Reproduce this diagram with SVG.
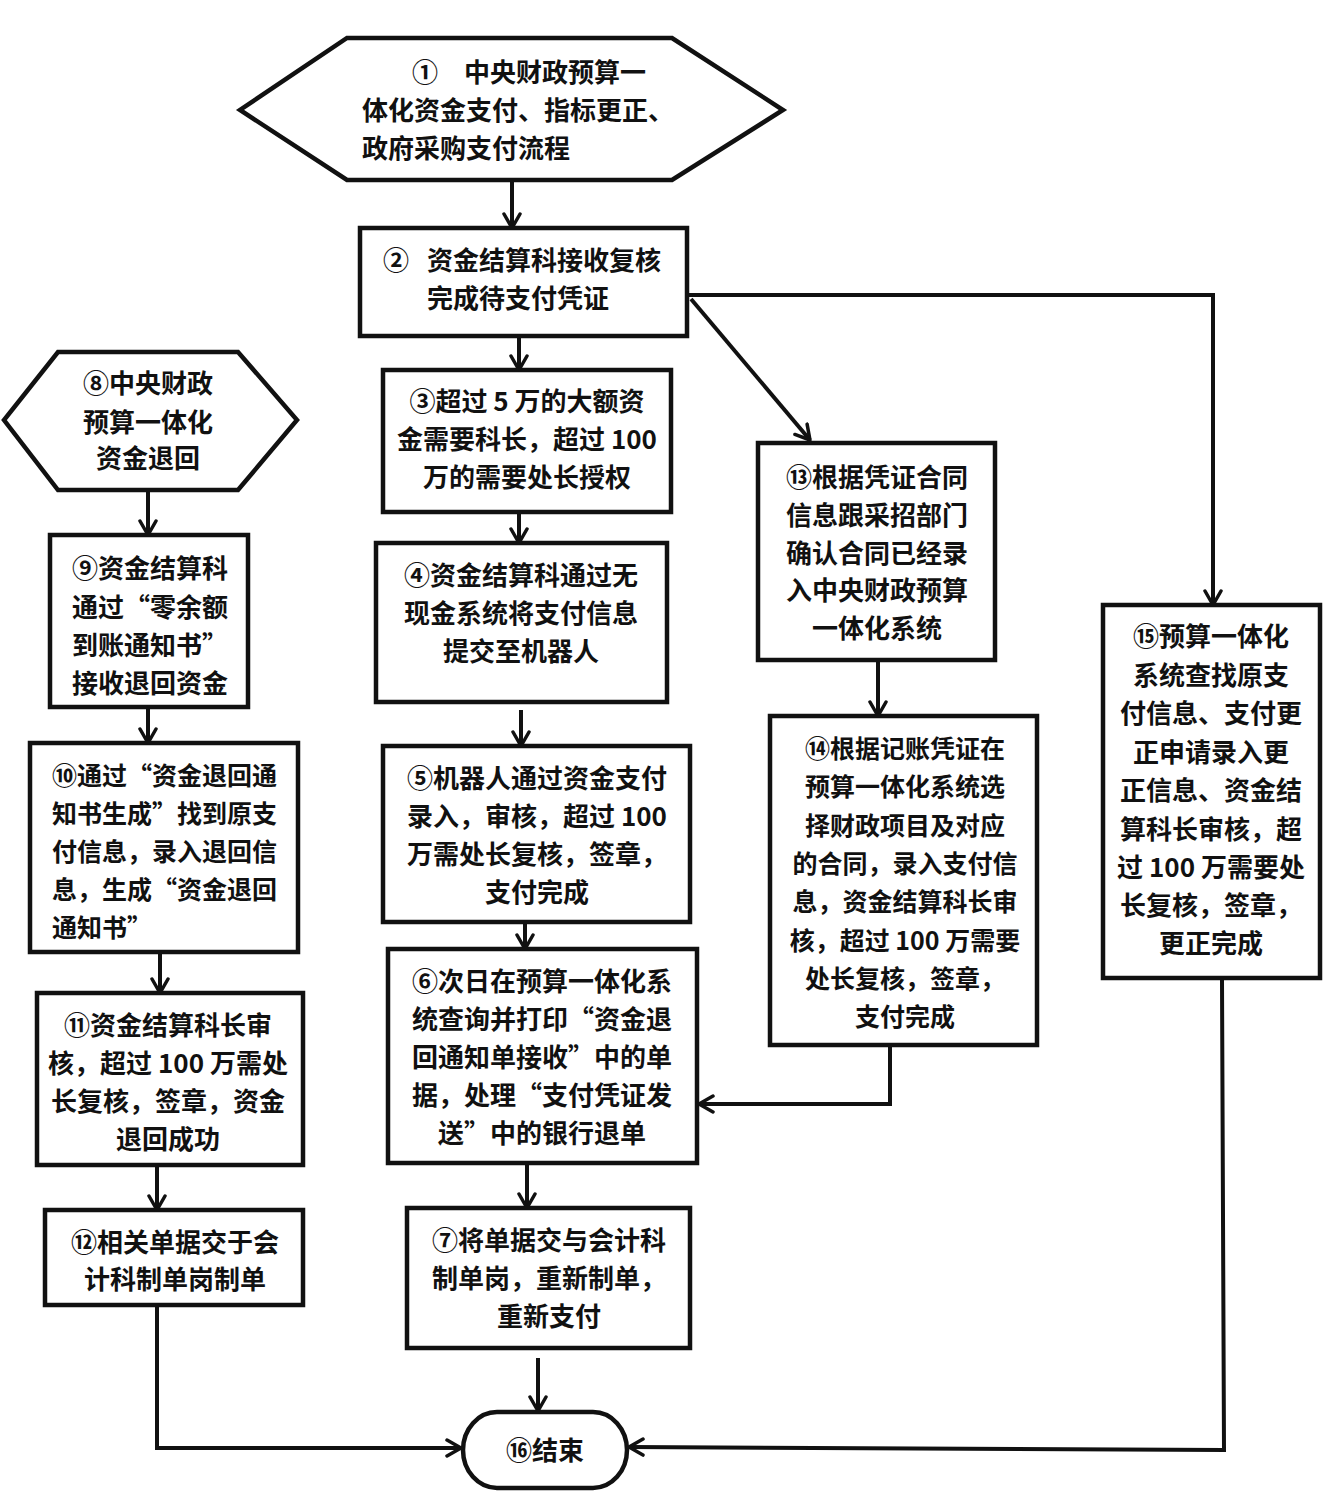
<svg xmlns="http://www.w3.org/2000/svg" width="1329" height="1512" viewBox="0 0 1329 1512">
<style>
.n{fill:#fff;stroke:#111;stroke-width:4.5;stroke-linejoin:miter}
.t{font-family:"Noto Sans CJK SC","Noto Sans CJK TC",sans-serif;font-size:26px;font-weight:700;fill:#111}
.s{font-size:25px}
.m{text-anchor:middle}
.c{fill:none;stroke:#111;stroke-width:4;stroke-linejoin:miter}
</style>
<defs>
<marker id="arr" viewBox="0 0 20 20" refX="18" refY="10" markerWidth="20" markerHeight="20" markerUnits="userSpaceOnUse" orient="auto">
<path d="M4,2 L18,10 L4,18" fill="none" stroke="#111" stroke-width="3.5" stroke-linecap="round" stroke-linejoin="round"/>
</marker>
</defs>
<rect width="1329" height="1512" fill="#fff"/>

<g id="connectors">
<path class="c" d="M512,182 L512,228" marker-end="url(#arr)"/>
<path class="c" d="M519,338 L519,370" marker-end="url(#arr)"/>
<path class="c" d="M689,295 L1213,295 L1213,605" marker-end="url(#arr)"/>
<path class="c" d="M691,299 L810,440" marker-end="url(#arr)"/>
<path class="c" d="M519,514 L519,543" marker-end="url(#arr)"/>
<path class="c" d="M521,710 L521,746" marker-end="url(#arr)"/>
<path class="c" d="M525,924 L525,949" marker-end="url(#arr)"/>
<path class="c" d="M527,1165 L527,1208" marker-end="url(#arr)"/>
<path class="c" d="M538,1358 L538,1411" marker-end="url(#arr)"/>
<path class="c" d="M878,662 L878,716" marker-end="url(#arr)"/>
<path class="c" d="M890,1047 L890,1104 L699,1104" marker-end="url(#arr)"/>
<path class="c" d="M148,492 L148,535" marker-end="url(#arr)"/>
<path class="c" d="M148,709 L148,743" marker-end="url(#arr)"/>
<path class="c" d="M160,954 L160,993" marker-end="url(#arr)"/>
<path class="c" d="M157,1167 L157,1210" marker-end="url(#arr)"/>
<path class="c" d="M157,1307 L157,1448 L461,1448" marker-end="url(#arr)"/>
<path class="c" d="M1222,980 L1224,1450 L629,1447" marker-end="url(#arr)"/>
</g>

<g id="n1">
<polygon class="n" points="347,38 672,38 783,110 672,180 347,180 240,110"/>
<text class="t" x="412" y="82">①　中央财政预算一</text>
<text class="t" x="362" y="120">体化资金支付、指标更正、</text>
<text class="t" x="362" y="158">政府采购支付流程</text>
</g>

<g id="n2">
<rect class="n" x="360" y="228" width="327" height="108"/>
<text class="t" x="383" y="270">② <tspan x="427">资金结算科接收复核</tspan></text>
<text class="t" x="427" y="308">完成待支付凭证</text>
</g>

<g id="n3">
<rect class="n" x="383" y="370" width="288" height="142"/>
<text class="t m" x="527" y="411">③超过 5 万的大额资</text>
<text class="t m" x="527" y="449">金需要科长，超过 100</text>
<text class="t m" x="527" y="487">万的需要处长授权</text>
</g>

<g id="n4">
<rect class="n" x="376" y="543" width="291" height="159"/>
<text class="t m" x="521" y="585">④资金结算科通过无</text>
<text class="t m" x="521" y="623">现金系统将支付信息</text>
<text class="t m" x="521" y="661">提交至机器人</text>
</g>

<g id="n5">
<rect class="n" x="383" y="746" width="307" height="176"/>
<text class="t m" x="537" y="788">⑤机器人通过资金支付</text>
<text class="t m" x="537" y="826">录入，审核，超过 100</text>
<text class="t m" x="537" y="864">万需处长复核，签章，</text>
<text class="t m" x="537" y="902">支付完成</text>
</g>

<g id="n6">
<rect class="n" x="388" y="949" width="309" height="214"/>
<text class="t m" x="542" y="991">⑥次日在预算一体化系</text>
<text class="t m" x="542" y="1029">统查询并打印“资金退</text>
<text class="t m" x="542" y="1067">回通知单接收”中的单</text>
<text class="t m" x="542" y="1105">据，处理“支付凭证发</text>
<text class="t m" x="542" y="1143">送”中的银行退单</text>
</g>

<g id="n7">
<rect class="n" x="407" y="1208" width="283" height="140"/>
<text class="t m" x="549" y="1250">⑦将单据交与会计科</text>
<text class="t m" x="549" y="1288">制单岗，重新制单，</text>
<text class="t m" x="549" y="1326">重新支付</text>
</g>

<g id="n8">
<polygon class="n" points="58,352 238,352 297,420 238,490 58,490 4,420"/>
<text class="t m" x="148" y="393">⑧中央财政</text>
<text class="t m" x="148" y="432">预算一体化</text>
<text class="t m" x="148" y="468">资金退回</text>
</g>

<g id="n9">
<rect class="n" x="50" y="535" width="198" height="172"/>
<text class="t m" x="150" y="578">⑨资金结算科</text>
<text class="t m" x="150" y="617">通过“零余额</text>
<text class="t m" x="150" y="655">到账通知书”</text>
<text class="t m" x="150" y="693">接收退回资金</text>
</g>

<g id="n10">
<rect class="n" x="30" y="743" width="268" height="209"/>
<text class="t s" x="52" y="785">⑩通过“资金退回通</text>
<text class="t s" x="52" y="823">知书生成”找到原支</text>
<text class="t s" x="52" y="861">付信息，录入退回信</text>
<text class="t s" x="52" y="899">息，生成“资金退回</text>
<text class="t s" x="52" y="937">通知书”</text>
</g>

<g id="n11">
<rect class="n" x="37" y="993" width="266" height="172"/>
<text class="t m" x="168" y="1035">⑪资金结算科长审</text>
<text class="t m" x="168" y="1073">核，超过 100 万需处</text>
<text class="t m" x="168" y="1111">长复核，签章，资金</text>
<text class="t m" x="168" y="1149">退回成功</text>
</g>

<g id="n12">
<rect class="n" x="45" y="1210" width="258" height="95"/>
<text class="t m" x="175" y="1252">⑫相关单据交于会</text>
<text class="t m" x="175" y="1289">计科制单岗制单</text>
</g>

<g id="n13">
<rect class="n" x="758" y="443" width="237" height="217"/>
<text class="t m" x="877" y="487">⑬根据凭证合同</text>
<text class="t m" x="877" y="525">信息跟采招部门</text>
<text class="t m" x="877" y="563">确认合同已经录</text>
<text class="t m" x="877" y="600">入中央财政预算</text>
<text class="t m" x="877" y="638">一体化系统</text>
</g>

<g id="n14">
<rect class="n" x="770" y="716" width="267" height="329"/>
<text class="t s m" x="905" y="758">⑭根据记账凭证在</text>
<text class="t s m" x="905" y="796">预算一体化系统选</text>
<text class="t s m" x="905" y="835">择财政项目及对应</text>
<text class="t s m" x="905" y="873">的合同，录入支付信</text>
<text class="t s m" x="905" y="911">息，资金结算科长审</text>
<text class="t s m" x="905" y="950">核，超过 100 万需要</text>
<text class="t s m" x="905" y="988">处长复核，签章，</text>
<text class="t s m" x="905" y="1026">支付完成</text>
</g>

<g id="n15">
<rect class="n" x="1103" y="605" width="217" height="373"/>
<text class="t m" x="1211" y="646">⑮预算一体化</text>
<text class="t m" x="1211" y="685">系统查找原支</text>
<text class="t m" x="1211" y="723">付信息、支付更</text>
<text class="t m" x="1211" y="762">正申请录入更</text>
<text class="t m" x="1211" y="800">正信息、资金结</text>
<text class="t m" x="1211" y="839">算科长审核，超</text>
<text class="t m" x="1211" y="877">过 100 万需要处</text>
<text class="t m" x="1211" y="915">长复核，签章，</text>
<text class="t m" x="1211" y="953">更正完成</text>
</g>

<g id="n16">
<rect class="n" x="463" y="1412" width="164" height="76" rx="34" ry="38"/>
<text class="t m" x="545" y="1460">⑯结束</text>
</g>
</svg>
